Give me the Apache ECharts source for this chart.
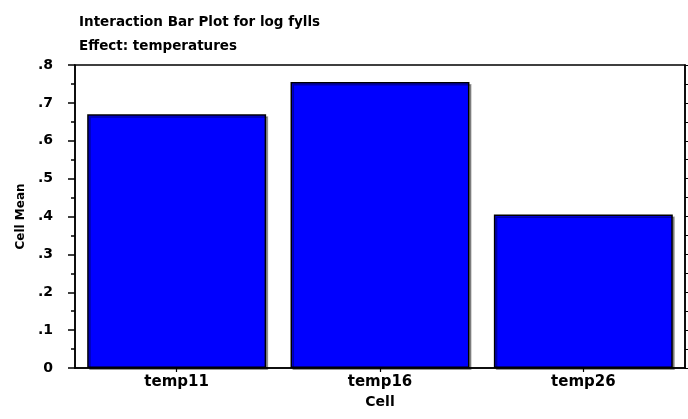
<!DOCTYPE html>
<html>
<head>
<meta charset="utf-8">
<script src="https://cdn.jsdelivr.net/npm/echarts@6/dist/echarts.min.js"></script>
<style>
html,body{margin:0;padding:0;background:#fff;}
#chart{width:688px;height:419px;}
</style>
</head>
<body>
<div id="chart"></div>
<script>
var categories = ['temp11', 'temp16', 'temp26'];
var meanValues = [0.670, 0.755, 0.405];
var yTickLabels = ['0', '.1', '.2', '.3', '.4', '.5', '.6', '.7', '.8'];
var titleLines = ['Interaction Bar Plot for log fylls', 'Effect: temperatures'];

var chart = echarts.init(document.getElementById('chart'), null, {renderer: 'canvas'});
var FONT = '"DejaVu Sans", "Liberation Sans", Arial, sans-serif';
chart.setOption({
  animation: false,
  backgroundColor: '#fff',
  title: {
    text: titleLines.join('\n'),
    left: 74, top: 5,
    textStyle: {fontFamily: FONT, fontWeight: 'bold', fontSize: 13.5, color: '#000', lineHeight: 24}
  },
  grid: {left: 75, right: 3, top: 65, bottom: 51, show: true, borderColor: '#000', borderWidth: 1.5, backgroundColor: 'transparent'},
  xAxis: {
    type: 'category',
    data: categories,
    name: 'Cell',
    nameLocation: 'middle',
    nameGap: 27,
    nameTextStyle: {fontFamily: FONT, fontWeight: 'bold', fontSize: 14, color: '#000'},
    axisLine: {show: true, onZero: false, lineStyle: {color: '#000', width: 1.5}},
    axisTick: {show: true, alignWithLabel: true, length: 4, lineStyle: {color: '#000', width: 1.2}},
    axisLabel: {fontFamily: FONT, fontWeight: 'bold', fontSize: 15, color: '#000', margin: 7},
    splitLine: {show: false}
  },
  yAxis: [{
    type: 'value',
    min: 0, max: 0.8, interval: 0.1,
    name: 'Cell Mean',
    nameLocation: 'middle',
    nameGap: 48,
    nameTextStyle: {fontFamily: FONT, fontWeight: 'bold', fontSize: 12, color: '#000'},
    axisLine: {show: true, lineStyle: {color: '#000', width: 1.5}},
    axisTick: {show: true, length: 7, lineStyle: {color: '#000', width: 1.5}},
    minorTick: {show: true, splitNumber: 2, length: 4, lineStyle: {color: '#000', width: 1.5}},
    axisLabel: {
      fontFamily: FONT, fontWeight: 'bold', fontSize: 14, color: '#000', margin: 22,
      formatter: function (v) { return yTickLabels[Math.round(v * 10)]; }
    },
    splitLine: {show: false}
  }, {
    type: 'value',
    position: 'right',
    min: 0, max: 0.8, interval: 0.05,
    axisLine: {show: true, lineStyle: {color: '#000', width: 1.5}},
    axisTick: {show: true, length: 4, lineStyle: {color: '#000', width: 1}},
    axisLabel: {show: false},
    splitLine: {show: false}
  }],
  series: [{
    type: 'bar',
    data: meanValues,
    barCategoryGap: '12%',
    itemStyle: {
      color: '#0000ff',
      borderColor: '#000',
      borderWidth: 1.5,
      shadowColor: 'rgba(0,0,0,0.35)',
      shadowOffsetX: 2,
      shadowOffsetY: 2,
      shadowBlur: 0
    }
  }]
});
</script>
</body>
</html>
